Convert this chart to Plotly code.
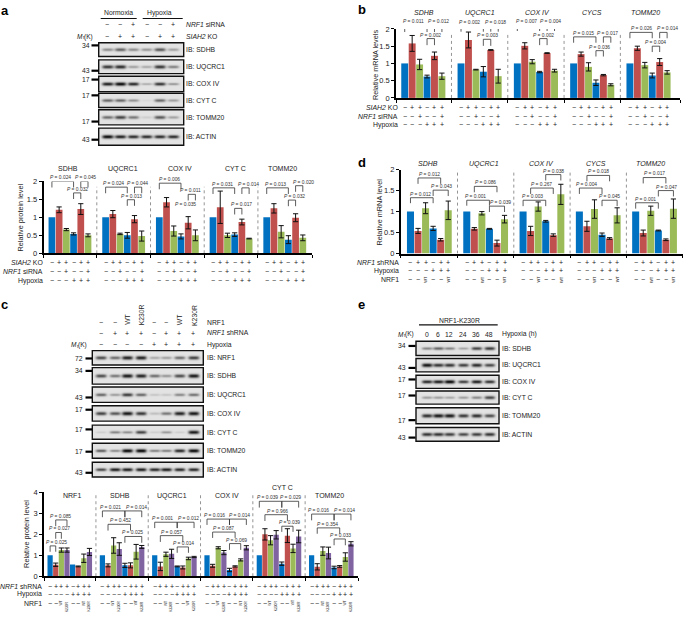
import numpy as np
import plotly.graph_objects as go

W, H = 683, 619
FONT = "Liberation Sans"
INK = "#222222"
BAR_COLORS = ["#0070C0", "#C0504D", "#9BBB59", "#8064A2"]

# ---------- data: panel a quantification ----------
A_TITLES = ["SDHB", "UQCRC1", "COX IV", "CYT C", "TOMM20"]
A_COLORS = [0, 1, 2, 0, 1, 2]
A_VALUES = [
    [1, 1.21, 0.66, 0.54, 1.23, 0.50],
    [1, 1.09, 0.54, 0.50, 0.95, 0.48],
    [1, 1.42, 0.62, 0.47, 0.85, 0.50],
    [1, 1.28, 0.50, 0.52, 0.87, 0.41],
    [1, 1.25, 0.60, 0.38, 0.99, 0.43],
]
A_ERRORS = [
    [0, 0.08, 0.03, 0.03, 0.15, 0.04],
    [0, 0.10, 0.02, 0.08, 0.10, 0.14],
    [0, 0.13, 0.14, 0.07, 0.17, 0.15],
    [0, 0.45, 0.06, 0.05, 0.08, 0.01],
    [0, 0.13, 0.17, 0.11, 0.11, 0.08],
]
A_ROWS = [("<i>SIAH2</i> KO", ["−", "+", "+", "−", "+", "+"]),
          ("<i>NRF1</i> siRNA", ["−", "−", "+", "−", "−", "+"]),
          ("Hypoxia", ["−", "−", "−", "+", "+", "+"])]
# group, bar i, bar j, top, leg drop, P text, label centre (bar units)
A_BRACKETS = [
    (0, 0, 3, 2.00, 0.17, "0.024", 1.15), (0, 4, 5, 2.00, 0.17, "0.045", 4.7), (0, 3, 4, 1.68, 0.17, "0.032", 3.6),
    (1, 0, 3, 1.84, 0.17, "0.024", 1.07), (1, 4, 5, 1.84, 0.17, "0.044", 4.4), (1, 3, 4, 1.49, 0.17, "0.013", 3.6),
    (2, 0, 3, 1.95, 0.17, "0.006", 1.35), (2, 4, 5, 1.64, 0.17, "0.011", 4.3), (2, 3, 4, 1.27, 0, "0.035", 3.6),
    (3, 0, 3, 1.82, 0.17, "0.031", 1.26), (3, 4, 5, 1.82, 0.17, "0.014", 4.9), (3, 3, 4, 1.25, 0.17, "0.017", 4.0),
    (4, 0, 3, 1.82, 0.17, "0.013", 1.2), (4, 4, 5, 1.88, 0.17, "0.020", 5.05), (4, 3, 4, 1.48, 0.17, "0.032", 3.9),
]

# ---------- data: panel b ----------
B_TITLES = ["SDHB", "UQCRC1", "COX IV", "CYCS", "TOMM20"]
B_VALUES = [
    [1, 1.58, 0.97, 0.62, 1.22, 0.63],
    [1, 1.68, 0.82, 0.76, 1.39, 0.63],
    [1, 1.51, 1.05, 0.75, 1.30, 0.79],
    [1, 1.27, 0.90, 0.44, 0.66, 0.38],
    [1, 1.44, 0.95, 0.65, 1.04, 0.74],
]
B_ERRORS = [
    [0, 0.23, 0.15, 0.04, 0.11, 0.09],
    [0, 0.23, 0.01, 0.15, 0.01, 0.20],
    [0, 0.09, 0.06, 0.02, 0.01, 0.04],
    [0, 0.06, 0.12, 0.08, 0.02, 0.03],
    [0, 0.06, 0.08, 0.07, 0.10, 0.05],
]
B_BRACKETS = [
    (0, 0, 3, 2.10, 0.19, "0.011", 1.2), (0, 4, 5, 2.10, 0.19, "0.012", 4.5), (0, 3, 4, 1.72, 0.19, "0.002", 3.5),
    (1, 0, 3, 2.09, 0.17, "0.002", 1.2), (1, 4, 5, 2.09, 0.17, "0.018", 4.6), (1, 3, 4, 1.70, 0.19, "0.003", 3.5),
    (2, 0, 3, 2.11, 0.17, "0.007", 1.2), (2, 4, 5, 2.11, 0.17, "0.004", 4.5), (2, 3, 4, 1.72, 0.19, "0.002", 3.5),
    (3, 0, 3, 1.77, 0.17, "0.015", 1.3), (3, 4, 5, 1.77, 0.17, "0.017", 4.5), (3, 3, 4, 1.37, 0.17, "0.036", 3.5),
    (4, 0, 3, 1.90, 0.17, "0.026", 1.5), (4, 4, 5, 1.90, 0.17, "0.014", 5.0), (4, 3, 4, 1.50, 0.17, "0.004", 3.5),
]

# ---------- data: panel d ----------
D_TITLES = ["SDHB", "UQCRC1", "COX IV", "CYCS", "TOMM20"]
D_VALUES = [
    [1, 0.54, 1.08, 0.60, 0.33, 1.03],
    [1, 0.59, 0.96, 0.59, 0.25, 0.82],
    [1, 0.54, 1.12, 0.77, 0.44, 1.41],
    [1, 0.65, 1.06, 0.45, 0.36, 0.91],
    [1, 0.49, 1.02, 0.55, 0.33, 1.07],
]
D_ERRORS = [
    [0, 0.06, 0.13, 0.05, 0.03, 0.22],
    [0, 0.03, 0.04, 0.01, 0.07, 0.09],
    [0, 0.11, 0.11, 0.02, 0.03, 0.24],
    [0, 0.12, 0.22, 0.04, 0.02, 0.18],
    [0, 0.07, 0.11, 0.01, 0.02, 0.23],
]
D_ROWS = [("<i>NRF1</i> shRNA", ["−", "+", "+", "−", "+", "+"]),
          ("Hypoxia", ["−", "−", "−", "+", "+", "+"]),
          ("NRF1", ["−", "−", "WT", "−", "−", "WT"])]
D_BRACKETS = [
    (0, 0, 3, 1.33, 0.13, "0.012", 1.3), (0, 1, 4, 1.80, 0.14, "0.012", 2.5), (0, 3, 5, 1.51, 0.14, "0.043", 4.1),
    (1, 0, 3, 1.27, 0.13, "0.001", 1.2), (1, 1, 4, 1.60, 0.14, "0.086", 2.5), (1, 3, 5, 1.13, 0.14, "0.039", 4.5),
    (2, 0, 3, 1.27, 0.14, "0.003", 1.3), (2, 1, 4, 1.56, 0.14, "0.267", 2.5), (2, 3, 5, 1.88, 0.14, "0.038", 4.0),
    (3, 0, 3, 1.56, 0.14, "0.004", 1.0), (3, 1, 4, 1.86, 0.14, "0.018", 2.5), (3, 3, 5, 1.27, 0.14, "0.045", 4.0),
    (4, 0, 3, 1.21, 0.14, "0.001", 1.3), (4, 1, 4, 1.81, 0.14, "0.017", 2.5), (4, 3, 5, 1.50, 0.14, "0.047", 4.1),
]

# ---------- data: panel c ----------
C_TITLES = ["NRF1", "SDHB", "UQCRC1", "COX IV", "CYT C", "TOMM20"]
C_COLORS = [0, 1, 2, 3, 0, 1, 2, 3]
C_VALUES = [
    [1, 0.55, 1.25, 1.25, 0.56, 0.47, 0.86, 1.16],
    [1, 0.52, 1.47, 1.30, 0.52, 0.52, 1.17, 1.40],
    [1, 0.47, 1.05, 1.07, 0.47, 0.42, 0.85, 0.92],
    [1, 0.50, 1.36, 1.13, 0.30, 0.47, 0.78, 1.36],
    [1, 2.00, 1.72, 1.98, 0.60, 1.94, 1.33, 1.90],
    [1, 0.45, 1.20, 1.11, 0.42, 0.47, 0.92, 1.55],
]
C_ERRORS = [
    [0, 0.08, 0.10, 0.10, 0, 0.02, 0.20, 0.17],
    [0, 0.07, 0.37, 0.30, 0.10, 0.12, 0.35, 0.07],
    [0, 0.20, 0.10, 0.22, 0.02, 0.07, 0.06, 0.03],
    [0, 0.07, 0.05, 0.10, 0.08, 0.03, 0.05, 0.10],
    [0, 0.27, 0.22, 0.20, 0.08, 0.33, 0.20, 0.30],
    [0, 0.15, 0.20, 0.28, 0.06, 0.04, 0.20, 0.10],
]
C_ROWS = [("<i>NRF1</i> shRNA", ["−", "+", "+", "+", "−", "+", "+", "+"]),
          ("Hypoxia", ["−", "−", "−", "−", "+", "+", "+", "+"]),
          ("NRF1", ["−", "−", "WT", "K230R", "−", "−", "WT", "K230R"])]
C_BRACKETS = [
    (0, 0, 1, 1.45, 0.28, "0.025", 1.07), (0, 1, 2, 2.09, 0.30, "0.027", 1.67), (0, 1, 3, 2.69, 0.30, "0.085", 1.9),
    (1, 0, 4, 3.12, 0.30, "0.021", 1.5), (1, 4, 7, 3.12, 0.30, "0.014", 6.07), (1, 1, 5, 2.48, 0.30, "0.452", 3.2), (1, 4, 7, 1.90, 0.30, "0.025", 5.3),
    (2, 0, 4, 2.58, 0.28, "0.001", 1.3), (2, 4, 7, 2.58, 0.28, "0.012", 6.1), (2, 1, 5, 1.94, 0.30, "0.057", 3.0), (2, 4, 6, 1.40, 0.28, "0.014", 5.2),
    (3, 0, 4, 2.73, 0.28, "0.016", 1.3), (3, 4, 7, 2.73, 0.28, "0.014", 5.8), (3, 1, 5, 2.11, 0.28, "0.087", 3.0), (3, 4, 6, 1.56, 0.30, "0.069", 5.2),
    (4, 0, 4, 3.58, 0.30, "0.039", 1.4), (4, 4, 7, 3.58, 0.30, "0.029", 5.6), (4, 1, 5, 2.94, 0.30, "0.966", 3.2), (4, 4, 6, 2.39, 0.27, "0.039", 5.3),
    (5, 0, 4, 2.97, 0.30, "0.016", 1.3), (5, 4, 7, 2.97, 0.30, "0.014", 5.8), (5, 1, 5, 2.31, 0.28, "0.354", 2.9), (5, 4, 6, 1.78, 0.30, "0.033", 5.1),
]

# ---------- data: blot band darkness ----------
A_BLOTS = [("SDHB", [.45, .65, .45, .40, .70, .35]),
           ("UQCRC1", [.85, .90, .35, .30, .85, .50]),
           ("COX IV", [.90, 1.0, .85, .25, .80, .35]),
           ("CYT C", [.60, .60, .40, .05, .60, .35]),
           ("TOMM20", [.60, .80, .55, .12, .70, .35]),
           ("ACTIN", [1.0, .90, .85, .85, .85, .85])]
C_BLOTS = [("NRF1", [.75, .60, .95, .95, .30, .35, .60, .80]),
           ("SDHB", [.75, .55, 1.0, .95, .60, .40, .75, 1.0]),
           ("UQCRC1", [.60, .35, .80, .60, .15, .15, .45, .55]),
           ("COX IV", [.80, .70, 1.0, .85, .20, .55, .95, 1.0]),
           ("CYT C", [.10, .45, .40, .75, .10, .35, .10, .95]),
           ("TOMM20", [.60, .40, 1.0, 1.0, .45, .45, .85, 1.0]),
           ("ACTIN", [.70, .90, .90, .90, .85, .90, .85, .85])]
E_BLOTS = [("SDHB", [.45, .60, .45, .30, .75, .80]),
           ("UQCRC1", [1.0, .85, .85, .80, .90, .75]),
           ("COX IV", [.85, .90, 1.0, .75, .90, .80]),
           ("CYT C", [.35, .35, .30, .35, .45, .75]),
           ("TOMM20", [.90, 1.0, 1.0, .85, .90, .75]),
           ("ACTIN", [.85, .85, .80, .75, .80, .85])]
E_TIMES = ["0", "6", "12", "24", "36", "48"]

fig = go.Figure()
annotations, shapes = [], []
layout_axes = {}


def note(px, py, text, size=7, anchor="center", angle=0, color=INK, bold=False):
    annotations.append(dict(
        x=px / W, y=1 - py / H, xref="paper", yref="paper", text=("<b>%s</b>" % text) if bold else text,
        showarrow=False, xanchor=anchor, yanchor="middle", textangle=angle,
        font=dict(size=size, family=FONT, color=color), borderpad=0, borderwidth=0))


def mr_label(right, py):
    note(right, py, "(K)", 6.5, "right")
    note(right - 8.4, py + 1.4, "r", 4.5, "right")
    note(right - 10, py, "<i>M</i>", 6.5, "right")


# overlay axis in page pixels, used for blots and their furniture
layout_axes["xaxis"] = dict(domain=[0, 1], range=[0, W], visible=False, fixedrange=True)
layout_axes["yaxis"] = dict(domain=[0, 1], range=[H, 0], visible=False, fixedrange=True)


def blot(left, right, top, bottom, lanes, darkness, half_w):
    xs = np.arange(left, right, 0.5)
    ys = np.arange(top, bottom, 0.5)
    gx, gy = np.meshgrid(xs, ys)
    mid = (top + bottom) / 2
    z = np.full(gx.shape, 0.11)
    for lane, d in zip(lanes, darkness):
        z += d * 0.85 * np.exp(-((gx - lane) / half_w) ** 4) * np.exp(-((gy - mid) / (0.9 + 0.9 * d)) ** 2)
    z = np.clip(z, 0, 1)
    fig.add_trace(go.Heatmap(z=z.round(3).tolist(), x0=left, dx=0.5, y0=top, dy=0.5, xaxis="x", yaxis="y",
                             coloraxis="coloraxis", hoverinfo="skip", zsmooth="best", showlegend=False))
    shapes.append(dict(type="rect", xref="x", yref="y", x0=left, x1=right, y0=top, y1=bottom,
                       line=dict(color="#111", width=1.4), fillcolor="rgba(0,0,0,0)"))


def blot_group(blots, rows, left, right, lanes, half_w, label_x):
    for (name, dark), (t, b) in zip(blots, rows):
        blot(left, right, t, b, lanes, dark, half_w)
        note(label_x, (t + b) / 2, "IB: " + name, 6.8, "left")


def size_marks(marks, x0, x1, label_x):
    for text, py in marks:
        shapes.append(dict(type="line", xref="x", yref="y", x0=x0, x1=x1, y0=py, y1=py,
                           line=dict(color="#000", width=2.2)))
        note(label_x, py, text, 6.8, "right")


def hline(x0, x1, y, width=1.2):
    shapes.append(dict(type="line", xref="x", yref="y", x0=x0, x1=x1, y0=y, y1=y,
                       line=dict(color="#111", width=width)))


# ----- panel a blots -----
A_LANES = [107.3, 120, 133.3, 146.7, 160, 173.3]
blot_group(A_BLOTS, [(39.3, 53.3), (56.7, 70.7), (73.3, 89), (90.7, 105), (107.3, 122.7), (126, 143.3)],
           98.7, 183.7, A_LANES, 5.6, 186)
size_marks([("34", 42), ("43", 67.7), ("17", 76.7), ("17", 92.7), ("17", 119.3), ("43", 137.7)], 91.5, 98.5, 89.5)
note(118, 9, "Normoxia", 6.8)
note(159, 9, "Hypoxia", 6.8)
hline(100.7, 136.7, 14.7)
hline(142.7, 182.7, 14.7)
note(186, 20.7, "<i>NRF1</i> siRNA", 6.8, "left")
note(186, 33, "<i>SIAH2</i> KO", 6.8, "left")
mr_label(93, 33)
for lane, a, b in zip(A_LANES, A_ROWS[1][1], A_ROWS[0][1]):
    note(lane, 20.7, a, 7)
    note(lane, 33, b, 7)

# ----- panel c blots -----
C_LANES = [100.7, 114.7, 127, 140.7, 154.3, 166, 179.3, 193.3]
blot_group(C_BLOTS, [(351.7, 366.3), (369, 385.7), (388.7, 404.3), (407.7, 423.3), (427.3, 441.7), (445.7, 461), (465, 480)],
           92.3, 203.3, C_LANES, 5.4, 206.7)
size_marks([("72", 359.7), ("34", 372.3), ("43", 399.3), ("17", 411.7), ("17", 431.7), ("17", 454.3), ("43", 475.7)], 85.5, 92, 83)
note(206.7, 322.7, "NRF1", 6.8, "left")
note(206.7, 333.7, "<i>NRF1</i> shRNA", 6.8, "left")
note(206.7, 346, "Hypoxia", 6.8, "left")
mr_label(87, 346)
for i, lane in enumerate(C_LANES):
    tag = C_ROWS[2][1][i]
    if tag == "−":
        note(lane, 323.5, tag, 7)
    else:
        note(lane + 0.5, 320 if tag == "WT" else 315.7, tag, 6.8, angle=-90)
    note(lane, 334, C_ROWS[0][1][i], 7)
    note(lane, 346, C_ROWS[1][1][i], 7)

# ----- panel e blots -----
E_LANES = [426.7, 438, 449.3, 463, 476.3, 489.3]
blot_group(E_BLOTS, [(342.3, 356.7), (359.7, 373.3), (376.7, 390), (392.7, 406), (409.7, 426), (429.7, 443.7)],
           416, 499, E_LANES, 5.2, 501.7)
size_marks([("34", 347), ("43", 369.3), ("17", 381), ("17", 397.3), ("17", 422.3), ("43", 440)], 408.5, 415.5, 405.5)
note(459.3, 320.7, "NRF1-K230R", 6.8)
hline(419, 497.7, 325.7)
mr_label(414, 335.3)
note(501.7, 335.3, "Hypoxia (h)", 6.8, "left")
for lane, t in zip(E_LANES, E_TIMES):
    note(lane, 335.3, t, 6.8)

# panel letters
note(1, 7, "a", 13, "left", bold=True, color="#000")
note(358, 6, "b", 13, "left", bold=True, color="#000")
note(1, 305, "c", 13, "left", bold=True, color="#000")
note(358, 160.7, "d", 13, "left", bold=True, color="#000")
note(358, 305, "e", 13, "left", bold=True, color="#000")


# ----- bar panels -----
def bar_panel(idx, values, errors, colors, brackets, rows, titles, title_px, title_y, italic_titles,
              left, right, y0, ytop, ymax, ticks, bar0, bw, gp, row_y, row_x, dot_top,
              ytitle, ytitle_x, ytitle_y, tag_size, tag_y):
    xa, ya = "xaxis%d" % idx, "yaxis%d" % idx
    xr, yr = "x%d" % idx, "y%d" % idx
    n = len(values[0])
    pitch = gp / bw
    unit = (y0 - ytop) / ymax
    cx = lambda g, i: g * pitch + i + 0.5
    to_px = lambda v: bar0 + v * bw
    to_py = lambda v: y0 - v * unit
    seps = [(g + 1) * pitch - (pitch - n) / 2 for g in range(len(values) - 1)]
    xrange = [(left - bar0) / bw, (right - bar0) / bw]
    layout_axes[xa] = dict(domain=[left / W, right / W], range=xrange, anchor=yr, showgrid=False, zeroline=False,
                           showline=True, linecolor="#000", linewidth=1.5, ticks="outside", ticklen=3, tickwidth=1.3,
                           tickcolor="#000", tickvals=[xrange[0]] + seps + [xrange[1]], showticklabels=False,
                           fixedrange=True)
    layout_axes[ya] = dict(domain=[1 - y0 / H, 1 - ytop / H], range=[0, ymax], anchor=xr, showgrid=False, zeroline=False,
                           showline=True, linecolor="#000", linewidth=1.5, ticks="outside", ticklen=3, tickwidth=1.3,
                           tickcolor="#000", tickvals=ticks, ticktext=[("%g" % t) for t in ticks],
                           tickfont=dict(size=7.5, family=FONT, color=INK), fixedrange=True)
    # separators
    sx, sy = [], []
    for s in seps:
        sx += [s, s, None]
        sy += [0, dot_top, None]
    fig.add_trace(go.Scatter(x=sx, y=sy, xaxis=xr, yaxis=yr, mode="lines", hoverinfo="skip", showlegend=False,
                             line=dict(color="#666", width=0.7, dash="dot")))
    # bars, one trace per colour
    for c in sorted(set(colors)):
        xs, ys, es, ref_x, ref_y = [], [], [], [], []
        for g, (vals, errs) in enumerate(zip(values, errors)):
            for i, (v, e) in enumerate(zip(vals, errs)):
                if colors[i] != c:
                    continue
                if e > 0:
                    xs.append(cx(g, i)); ys.append(v); es.append(e)
                else:
                    ref_x.append(cx(g, i)); ref_y.append(v)
        if ref_x:
            fig.add_trace(go.Bar(x=ref_x, y=ref_y, xaxis=xr, yaxis=yr, width=0.93, showlegend=False,
                                 marker=dict(color=BAR_COLORS[c], line=dict(width=0)), hoverinfo="skip"))
        if xs:
            fig.add_trace(go.Bar(x=xs, y=ys, xaxis=xr, yaxis=yr, width=0.93, showlegend=False,
                                 marker=dict(color=BAR_COLORS[c], line=dict(width=0)), hoverinfo="skip",
                                 error_y=dict(type="data", array=es, visible=True, color="#111", thickness=1, width=2.6)))
    # brackets
    bx, by = [], []
    for g, i, j, top, drop, label, lab_x in brackets:
        if drop > 0:
            bx += [cx(g, i), cx(g, i), cx(g, j), cx(g, j), None]
            by += [top - drop, top, top, top - drop, None]
        note(to_px(g * pitch + lab_x + 0.5), to_py(top) - 3.6, "<i>P</i> = " + label, 4.9, color="#333")
    fig.add_trace(go.Scatter(x=bx, y=by, xaxis=xr, yaxis=yr, mode="lines", hoverinfo="skip", showlegend=False,
                             cliponaxis=False, line=dict(color="#333", width=0.8)))
    # sign rows
    for (label, signs), py in zip(rows, row_y):
        note(row_x, py, label, 6.9, "right")
        for g in range(len(values)):
            for i, s in enumerate(signs):
                if s in ("−", "+"):
                    note(to_px(cx(g, i)), py, s, 7)
                else:
                    note(to_px(cx(g, i)), py + (tag_y if s != "WT" else 0), s, tag_size, angle=-90)
    # titles
    for t, px, tyy in zip(titles, title_px, title_y):
        note(px, tyy, ("<i>%s</i>" % t) if italic_titles else t, 7)
    note(ytitle_x, ytitle_y, ytitle, 7.3, angle=-90)


bar_panel(2, A_VALUES, A_ERRORS, A_COLORS, A_BRACKETS, A_ROWS, A_TITLES,
          [68, 123, 180, 235, 282], [167] * 5, False,
          43.5, 312, 253, 180, 2, [0, 0.5, 1, 1.5, 2], 48.3, 7.22, 53.7, [262.3, 271.3, 280.7], 43,
          1.85, "Relative protein level", 20.7, 217, 4, 0)

bar_panel(3, B_VALUES, B_ERRORS, A_COLORS, B_BRACKETS, A_ROWS, B_TITLES,
          [424, 480, 537, 592, 645], [9] * 5, True,
          396, 680, 95.3, 25.3, 2, [0, 0.5, 1, 1.5, 2], 401, 7.44, 56.3, [105, 113.7, 122.3], 397.7,
          1.9, "Relative mRNA levels", 375, 62, 4, 0)

bar_panel(4, D_VALUES, D_ERRORS, A_COLORS, D_BRACKETS, D_ROWS, D_TITLES,
          [428, 484, 541.7, 596, 650], [162.3] * 5, True,
          400.7, 682.5, 253.3, 168, 2, [0, 0.5, 1, 1.5, 2], 406.7, 7.55, 56.3, [262.3, 270.7, 279.3], 399,
          2, "Relative mRNA level", 380, 211.7, 4, 0)

bar_panel(5, C_VALUES, C_ERRORS, C_COLORS, C_BRACKETS, C_ROWS, C_TITLES,
          [71.7, 120, 171.7, 226.7, 282.3, 329.3], [499, 499, 499, 499, 491, 499], False,
          44, 358, 580.7, 495.7, 4, [0, 1, 2, 3, 4], 47.3, 5.62, 52.3, [590.7, 599, 608], 41.7,
          4, "Relative protein level", 27, 537.7, 3.3, 3)

fig.update_layout(
    width=W, height=H, autosize=False, margin=dict(l=0, r=0, t=0, b=0),
    paper_bgcolor="white", plot_bgcolor="rgba(0,0,0,0)", showlegend=False, barmode="overlay",
    font=dict(family=FONT, color=INK),
    coloraxis=dict(colorscale=[[0, "#ffffff"], [1, "#000000"]], cmin=0, cmax=1, showscale=False),
    annotations=annotations, shapes=shapes, **layout_axes)

fig.write_html("out.html", config={"displayModeBar": False, "responsive": False},
               post_script="document.body.style.margin='0';")
